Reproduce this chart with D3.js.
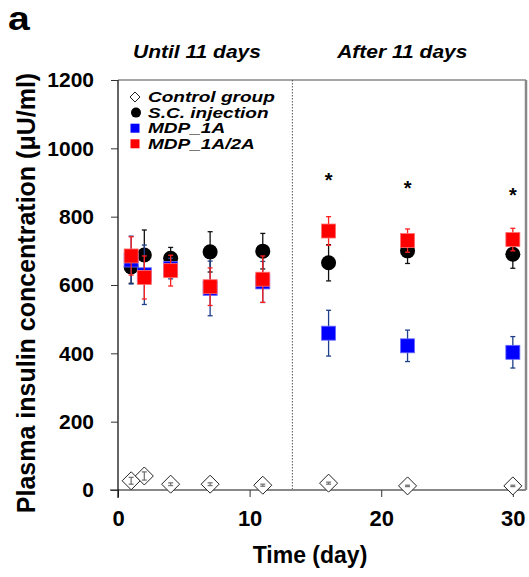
<!DOCTYPE html>
<html>
<head>
<meta charset="utf-8">
<script src="https://cdn.jsdelivr.net/npm/d3@7"></script>
<style>
  body { margin: 0; background: #fff; }
  text { font-family: "Liberation Sans", Arial, sans-serif; font-weight: bold; }
</style>
</head>
<body>
<div id="chart"></div>
<script>
const WIDTH = 529, HEIGHT = 577;
const MARGIN = { top: 80, right: 3, bottom: 87, left: 118 };
const INNER_WIDTH = WIDTH - MARGIN.left - MARGIN.right;
const INNER_HEIGHT = HEIGHT - MARGIN.top - MARGIN.bottom;

// data
const days = [1, 2, 4, 7, 11, 16, 22, 30];
const control = [27, 41, 17, 17, 14, 20, 12, 12];
const controlErr = [10, 12, 4, 4, 3, 3, 2, 2];
const scInjection = [653, 688, 678, 697, 699, 665, 700, 690];
const scErr = [48, 73, 32, 59, 52, 53, 37, 41];
const mdp1a = [673, 630, 648, 590, 609, 459, 422, 403];
const mdp1aErr = [70, 87, 30, 80, 60, 67, 46, 46];
const mdp1a2a = [685, 622, 642, 595, 617, 758, 730, 733];
const mdp1a2aErr = [56, 63, 45, 55, 68, 42, 34, 33];
const starDays = [16, 22, 30];
const starValues = [912, 890, 870];
const xTicks = [0, 10, 20, 30];
const yTicks = [0, 200, 400, 600, 800, 1000, 1200];
const splitDay = 13.25;
const sections = [{ day: 6, label: "Until 11 days" }, { day: 21.6, label: "After 11 days" }];
const legendItems = ["Control group", "S.C. injection", "MDP_1A", "MDP_1A/2A"];

const svg = d3.select("#chart")
  .append("svg")
  .attr("width", WIDTH)
  .attr("height", HEIGHT)
  .append("g")
  .attr("transform", `translate(${MARGIN.left}, ${MARGIN.top})`);

const x = d3.scaleLinear().domain([0, 31]).range([0, INNER_WIDTH]);
const y = d3.scaleLinear().domain([0, 1200]).range([INNER_HEIGHT, 0]);

// the original figure is a bit wider than tall, so text is stretched sideways
function wideText(parent, tx, ty, str, size, anchor, sx) {
  return parent.append("g")
    .attr("transform", `translate(${tx}, ${ty}) scale(${sx}, 1)`)
    .append("text")
    .attr("text-anchor", anchor)
    .style("font-size", size + "px")
    .style("font-style", "italic")
    .text(str);
}

// frame (top + right, gray)
svg.append("line").attr("x1", 0).attr("x2", INNER_WIDTH).attr("y1", 0).attr("y2", 0)
  .attr("stroke", "#888").attr("stroke-width", 1.5);
svg.append("line").attr("x1", INNER_WIDTH).attr("x2", INNER_WIDTH).attr("y1", 0).attr("y2", INNER_HEIGHT)
  .attr("stroke", "#888").attr("stroke-width", 2.5);

// split line
svg.append("line")
  .attr("x1", x(splitDay)).attr("x2", x(splitDay))
  .attr("y1", 0).attr("y2", INNER_HEIGHT)
  .attr("stroke", "#555").attr("stroke-width", 1)
  .attr("stroke-dasharray", "1.5,1.5");

// Axes
const xAxis = svg.append("g")
  .attr("transform", `translate(0, ${INNER_HEIGHT})`)
  .call(d3.axisBottom(x).tickValues(xTicks).tickSize(7).tickPadding(13).tickSizeOuter(0));
xAxis.select(".domain").attr("stroke", "#888").attr("stroke-width", 2)
  .attr("d", `M-8,0H${INNER_WIDTH}`);
xAxis.selectAll(".tick line").attr("stroke", "#333");
xAxis.selectAll("text").style("font-size", "22px").attr("fill", "#000");

const yAxis = svg.append("g")
  .call(d3.axisLeft(y).tickValues(yTicks).tickFormat(d3.format("d")).tickSize(7).tickPadding(17).tickSizeOuter(0));
yAxis.select(".domain").attr("stroke", "#000").attr("stroke-width", 1.2)
  .attr("d", `M0,${INNER_HEIGHT + 8}V0`);
yAxis.selectAll(".tick line").attr("stroke", "#333");
yAxis.selectAll("text").style("font-size", "21px").attr("fill", "#000");

// error bars helper
function errorBars(vals, errs, color, cls) {
  const g = svg.append("g").attr("class", cls);
  days.forEach((d, i) => {
    const cx = x(d);
    const top = y(vals[i] + errs[i]);
    const bot = y(vals[i] - errs[i]);
    g.append("line").attr("x1", cx).attr("x2", cx).attr("y1", top).attr("y2", bot)
      .attr("stroke", color).attr("stroke-width", 1.3);
    [top, bot].forEach(yy => {
      g.append("line").attr("x1", cx - 2.5).attr("x2", cx + 2.5).attr("y1", yy).attr("y2", yy)
        .attr("stroke", color).attr("stroke-width", 1.3);
    });
  });
}

// S.C. injection
errorBars(scInjection, scErr, "#111", "sc-err");
svg.selectAll("circle.sc")
  .data(days)
  .join("circle")
  .attr("class", "sc")
  .attr("cx", d => x(d))
  .attr("cy", (d, i) => y(scInjection[i]))
  .attr("r", 7.5)
  .attr("fill", "#000");

// MDP_1A
const sq = 14;
errorBars(mdp1a, mdp1aErr, "#1f3f8a", "mdp1a-err");
svg.selectAll("rect.mdp1a")
  .data(days)
  .join("rect")
  .attr("class", "mdp1a")
  .attr("x", d => x(d) - sq / 2)
  .attr("y", (d, i) => y(mdp1a[i]) - sq / 2)
  .attr("width", sq).attr("height", sq)
  .attr("fill", "#0000ff")
  .attr("stroke", "#6a6aff").attr("stroke-width", 0.8);

// MDP_1A/2A
errorBars(mdp1a2a, mdp1a2aErr, "#ff2020", "mdp1a2a-err");
svg.selectAll("rect.mdp1a2a")
  .data(days)
  .join("rect")
  .attr("class", "mdp1a2a")
  .attr("x", d => x(d) - sq / 2)
  .attr("y", (d, i) => y(mdp1a2a[i]) - sq / 2)
  .attr("width", sq).attr("height", sq)
  .attr("fill", "#ff0000")
  .attr("stroke", "#ff7070").attr("stroke-width", 0.8);

// Control group (diamonds)
const dia = 9;
svg.selectAll("path.control")
  .data(days)
  .join("path")
  .attr("class", "control")
  .attr("transform", (d, i) => `translate(${x(d)}, ${y(control[i])})`)
  .attr("d", `M0,${-dia}L${dia},0L0,${dia}L${-dia},0Z`)
  .attr("fill", "#fff")
  .attr("stroke", "#222").attr("stroke-width", 1);
errorBars(control, controlErr, "#777", "control-err");

// significance stars
svg.selectAll("text.star")
  .data(starDays)
  .join("text")
  .attr("class", "star")
  .attr("x", d => x(d))
  .attr("y", (d, i) => y(starValues[i]) + 9)
  .attr("text-anchor", "middle")
  .style("font-size", "20px")
  .text("*");

// section labels
sections.forEach(s => wideText(svg, x(s.day), -22, s.label, 17.5, "middle", 1.2));

// Legend
const legend = svg.append("g").attr("transform", "translate(17, 17)");
legendItems.forEach((name, i) => {
  const row = legend.append("g").attr("transform", `translate(0, ${i * 15.6})`);
  if (i === 0) {
    row.append("path").attr("d", "M0,-5L5,0L0,5L-5,0Z")
      .attr("fill", "#fff").attr("stroke", "#222").attr("stroke-width", 1);
  } else if (i === 1) {
    row.append("circle").attr("cx", 1).attr("r", 5).attr("fill", "#000");
  } else {
    row.append("rect").attr("x", -4.5).attr("y", -4.5).attr("width", 9).attr("height", 9)
      .attr("fill", i === 2 ? "#0000ff" : "#ff0000");
  }
  wideText(row, 13, 5.2, name, 14, "start", 1.36);
});

// Labels
svg.append("text")
  .attr("x", 310 - MARGIN.left)
  .attr("y", INNER_HEIGHT + 73)
  .attr("text-anchor", "middle")
  .style("font-size", "23px")
  .text("Time (day)");

svg.append("text")
  .attr("transform", "rotate(-90)")
  .attr("x", -(293 - MARGIN.top))
  .attr("y", -MARGIN.left + 35)
  .attr("text-anchor", "middle")
  .style("font-size", "25px")
  .text("Plasma insulin concentration (μU/ml)");

// panel letter
d3.select("#chart svg").append("g")
  .attr("transform", "translate(8, 30) scale(1.15, 1)")
  .append("text")
  .style("font-size", "34px")
  .text("a");
</script>
</body>
</html>
